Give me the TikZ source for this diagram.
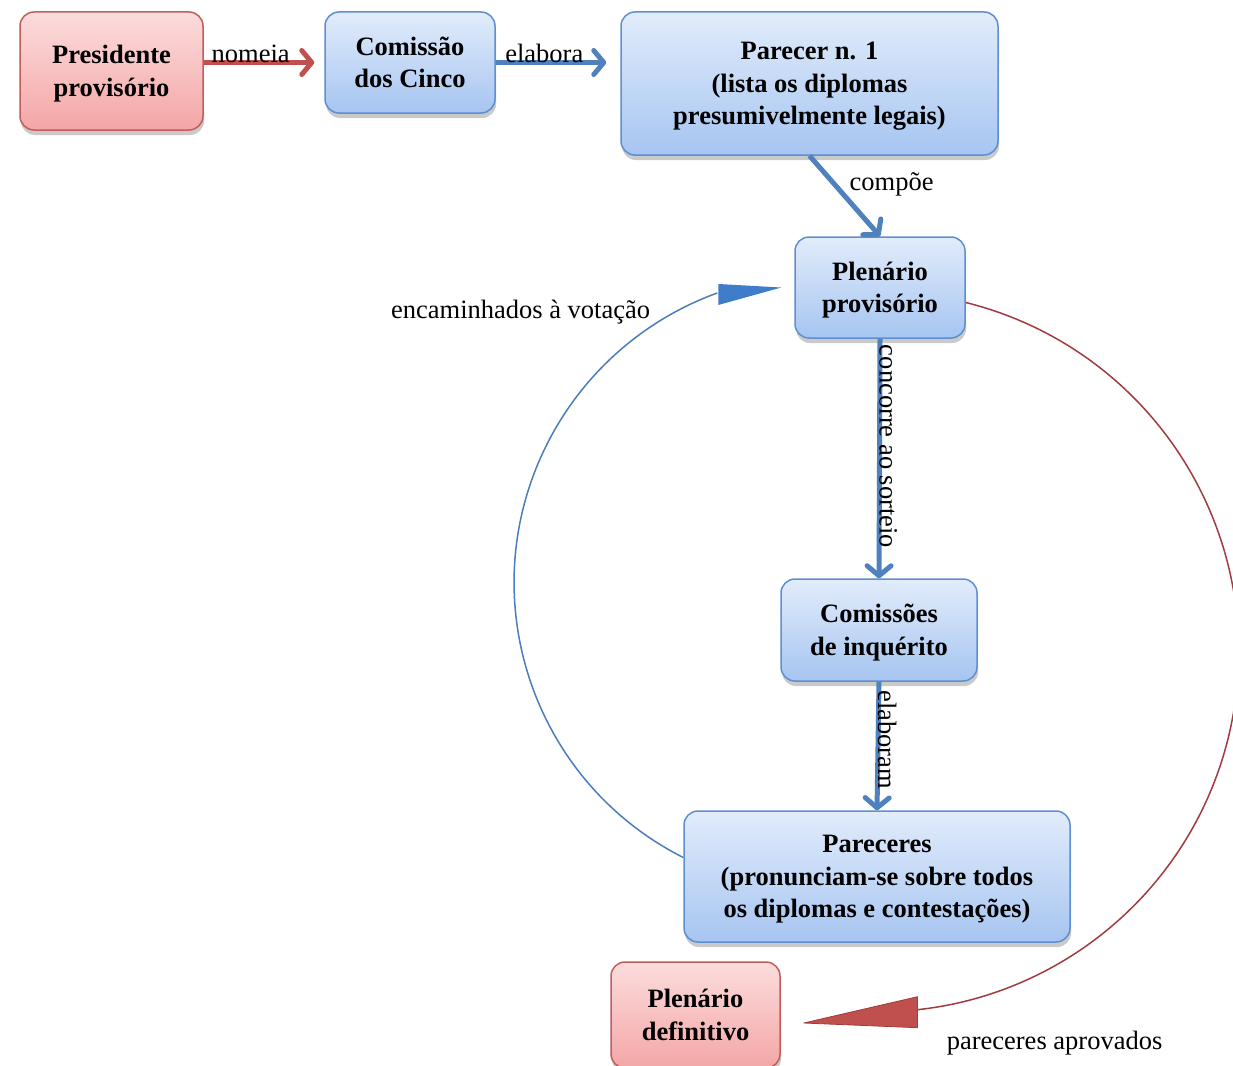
\documentclass[tikz,border=0pt]{standalone}
\usepackage{fontspec}
\setmainfont{Liberation Serif}
\usetikzlibrary{arrows.meta,shadows,calc}
\definecolor{bTop}{HTML}{E2ECFB}
\definecolor{bBot}{HTML}{A6C5F1}
\definecolor{bBord}{HTML}{5E8FD0}
\definecolor{rTop}{HTML}{FCDCDC}
\definecolor{rBot}{HTML}{F4A6A6}
\definecolor{rBord}{HTML}{C25D5D}
\definecolor{bArrow}{HTML}{4F81BD}
\definecolor{rArrow}{HTML}{C0504D}
\definecolor{bThin}{HTML}{4A7EBB}
\definecolor{rThin}{HTML}{A23B3F}
\definecolor{bWedge}{HTML}{3F7DCB}
\begin{document}
\begin{tikzpicture}[x=1pt,y=1pt,
  box/.style={rounded corners=14pt, line width=1.5pt, align=center,
    font=\fontsize{26.5}{32.5}\selectfont\bfseries, inner sep=0pt,
    text depth=0pt,
    drop shadow={shadow xshift=1pt, shadow yshift=-5pt, opacity=0.35, fill=black!60}},
  bluebox/.style={box, draw=bBord, top color=bTop, bottom color=bBot},
  redbox/.style={box, draw=rBord, top color=rTop, bottom color=rBot},
  fat/.style={line width=5pt, -{Straight Barb[length=10pt,width=24pt,round]}},
  lbl/.style={font=\fontsize{26.5}{32.5}\selectfont, inner sep=0pt, text=black},
  thinline/.style={line width=1.5pt}
]
\useasboundingbox (0,0) rectangle (1233,-1065);
\clip (0,0) rectangle (1233,-1065);

\node[redbox, minimum width=183pt, minimum height=118pt] (pres) at (111.5,-71) {Presidente\\provisório};
\node[bluebox, minimum width=170pt, minimum height=101pt] (com) at (410,-62.5) {Comissão\\dos Cinco};
\node[bluebox, minimum width=377pt, minimum height=143pt] (par) at (809.5,-83.5) {Parecer n. 1\\(lista os diplomas\\presumivelmente legais)};
\node[bluebox, minimum width=170pt, minimum height=101pt] (plen) at (880,-287.5) {Plenário\\provisório};
\node[bluebox, minimum width=196pt, minimum height=102pt] (comi) at (879,-630) {Comissões\\de inquérito};
\node[bluebox, minimum width=386pt, minimum height=131pt] (pars) at (877,-876.5) {Pareceres\\(pronunciam-se sobre todos\\os diplomas e contestações)};
\node[redbox, minimum width=169pt, minimum height=106pt] (def) at (695.5,-1015) {Plenário\\definitivo};

\draw[fat, rArrow, shorten >=10pt] (pres.east |- com.west) -- (com.west)
  node[lbl, pos=0.39, anchor=base] {nomeia};
\draw[fat, bArrow, shorten >=14pt] (com.east) -- (com.east -| par.west)
  node[lbl, pos=0.39, anchor=base] {elabora};
\draw[fat, bArrow] (par.south) -- (plen.north)
  node[lbl, pos=0.35, anchor=west, xshift=13pt] {compõe};
\draw[fat, bArrow] (plen.south) -- (comi.north)
  node[lbl, pos=0.45, rotate=-90, anchor=base] {concorre ao sorteio};
\draw[fat, bArrow] (comi.south) -- (pars.north)
  node[lbl, pos=0.45, rotate=-90, anchor=base] {elaboram};

\draw[bThin, thinline] ([yshift=19pt]pars.west) arc[start angle=243.2, end angle=109.9, radius=308pt] coordinate (b1);
\fill[bWedge] ($(b1)+(1,9)$) -- ([xshift=-13pt]plen.west) -- ($(b1)+(1,-12)$) -- cycle;
\node[lbl, anchor=base east] at ($(b1)+(-67,-26)$) {encaminhados à votação};

\draw[rThin, thinline] ([yshift=-15pt]plen.east) arc[start angle=76, end angle=-83.8, radius=360pt] coordinate (r1);
\filldraw[fill=rArrow, draw=rThin, line width=0.8pt, line join=round] ($(r1)+(0,13)$) -- ([xshift=23pt,yshift=-8pt]def.east) -- ($(r1)+(0,-18)$) -- cycle;
\node[lbl, anchor=base] at ($(r1)+(137,-40)$) {pareceres aprovados};
\end{tikzpicture}
\end{document}
